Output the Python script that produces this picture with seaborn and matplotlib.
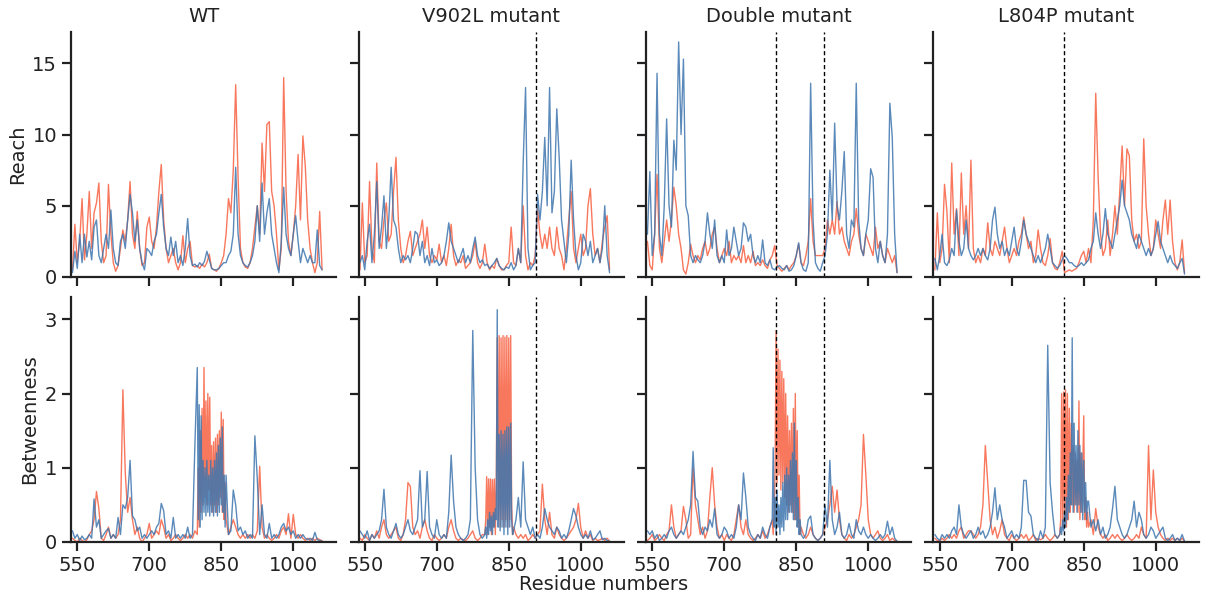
import matplotlib
matplotlib.use("Agg")
import matplotlib.pyplot as plt
import numpy as np
import pandas as pd
import seaborn as sns

# Residue grids: reach every 5 residues; betweenness is sampled more finely
# through the dense 800-858 hinge segment.
reach_residues = list(range(540, 1061, 5))
betw_residues = (list(range(540, 800, 5)) + list(range(800, 860, 2))
                 + list(range(860, 1061, 5)))

systems = ["WT", "V902L mutant", "Double mutant", "L804P mutant"]
# Dashed guide lines marking the mutated positions on each panel's axis
marker_lines = {
    "WT": [],
    "V902L mutant": [907],
    "Double mutant": [808, 907],
    "L804P mutant": [808],
}

# ---- Reach profiles (state A = red, state B = blue) ----
reach_wt_a = [0.5, 3.7, 1.0, 2.5, 5.5, 1.2, 3.0, 6.0, 2.0, 4.5,
              5.2, 6.6, 2.5, 1.0, 1.5, 6.5, 3.0, 1.0, 0.4, 0.8,
              2.0, 3.3, 2.5, 4.0, 6.7, 3.0, 2.0, 4.6, 2.0, 0.8,
              1.0, 3.5, 4.2, 2.5, 2.0, 3.5, 6.0, 7.9, 4.0, 2.0,
              1.0, 1.5, 2.0, 1.0, 0.5, 1.0, 2.9, 1.0, 2.0, 2.5,
              0.8, 0.7, 0.8, 0.6, 0.9, 0.7, 1.0, 1.6, 0.6, 0.5,
              0.4, 0.6, 1.0, 1.5, 3.0, 5.5, 4.5, 7.5, 13.5, 7.0,
              2.0, 1.0, 0.7, 0.6, 1.0, 2.0, 3.5, 5.0, 3.0, 9.4,
              6.0, 10.7, 10.9, 6.0, 5.0, 3.0, 0.5, 2.0, 14.0, 6.0,
              2.5, 1.5, 3.0, 5.0, 8.6, 4.0, 9.9, 7.8, 4.0, 2.0,
              1.0, 0.3, 1.0, 4.6, 0.5]
reach_wt_b = [0.3, 1.8, 0.6, 3.0, 1.0, 3.0, 1.4, 2.5, 1.2, 3.5,
              4.0, 1.5, 1.0, 2.0, 3.0, 2.0, 4.7, 2.0, 1.0, 0.8,
              2.5, 3.0, 2.0, 4.0, 5.8, 4.5, 2.5, 4.0, 2.0, 1.0,
              0.5, 2.0, 1.8, 1.5, 2.5, 3.0, 4.5, 5.8, 3.5, 2.0,
              1.5, 2.8, 1.5, 2.5, 1.0, 1.5, 0.8, 2.0, 4.1, 1.5,
              0.8, 0.9, 0.7, 1.0, 0.8, 1.1, 1.8, 1.2, 0.6, 0.5,
              0.5, 0.6, 0.8, 1.0, 1.0, 1.5, 1.8, 3.0, 7.7, 3.0,
              1.5, 1.0, 0.8, 0.7, 1.0, 1.5, 2.5, 5.0, 2.5, 6.6,
              3.0, 4.5, 5.5, 3.0, 2.0, 1.0, 0.3, 2.5, 6.3, 3.0,
              2.0, 1.5, 3.0, 4.3, 2.5, 1.0, 2.0, 1.5, 1.0, 1.5,
              1.0, 1.0, 3.3, 0.8, 0.5]
reach_v902l_a = [0.5, 5.2, 1.0, 1.5, 6.7, 2.0, 1.0, 8.0, 2.5, 2.0,
                 4.0, 5.2, 2.5, 3.0, 6.0, 8.4, 4.0, 2.0, 1.0, 1.5,
                 2.5, 3.2, 1.5, 2.0, 2.5, 3.0, 4.0, 2.0, 3.5, 1.5,
                 1.0, 1.5, 1.2, 2.3, 1.0, 1.5, 0.8, 2.0, 3.7, 1.5,
                 0.8, 1.2, 1.0, 1.5, 0.6, 0.8, 1.0, 1.5, 2.5, 1.0,
                 0.6, 1.0, 2.3, 1.0, 0.5, 0.8, 0.6, 1.3, 0.8, 0.5,
                 0.5, 0.8, 1.0, 3.5, 1.0, 0.8, 2.0, 1.0, 5.0, 1.5,
                 0.5, 1.0, 0.8, 1.5, 4.8, 3.0, 2.0, 3.0, 2.0, 3.5,
                 2.0, 1.5, 3.5, 2.0, 1.5, 0.5, 2.0, 4.0, 6.0, 2.0,
                 1.0, 2.0, 3.0, 1.5, 2.0, 5.0, 6.2, 3.0, 1.5, 2.0,
                 1.0, 2.5, 3.5, 4.3, 0.5]
reach_v902l_b = [1.0, 1.5, 0.5, 2.5, 3.7, 1.0, 3.0, 6.7, 2.0, 3.5,
                 5.7, 2.0, 4.0, 7.7, 4.0, 3.5, 2.0, 1.0, 1.5, 1.2,
                 1.5, 1.0, 2.0, 3.2, 3.0, 1.5, 2.5, 1.0, 1.5, 0.8,
                 2.0, 1.0, 1.2, 0.8, 1.0, 1.5, 2.5, 3.8, 2.5, 2.0,
                 1.5, 1.0, 1.5, 2.0, 1.0, 1.5, 1.0, 2.0, 2.8, 1.5,
                 1.0, 1.2, 0.8, 0.9, 0.6, 0.8, 1.0, 1.3, 0.8, 0.6,
                 0.5, 0.7, 0.6, 1.0, 0.5, 0.8, 2.0, 1.0, 8.0, 13.3,
                 2.0, 0.5, 0.8, 1.0, 5.8, 4.0, 6.0, 9.8, 5.0, 13.3,
                 4.5, 6.0, 11.8, 8.4, 4.0, 2.5, 1.0, 3.0, 8.2, 4.0,
                 1.5, 0.5, 1.0, 3.0, 2.5, 1.5, 2.5, 1.0, 1.5, 2.0,
                 1.0, 2.0, 5.0, 1.5, 0.3]
reach_double_a = [2.5, 0.8, 0.5, 3.0, 7.2, 2.0, 1.0, 2.5, 4.0, 2.5,
                  4.0, 6.3, 5.0, 3.0, 2.0, 0.5, 0.2, 1.0, 2.3, 1.5,
                  1.0, 1.5, 1.2, 2.0, 2.5, 1.5, 2.0, 3.0, 3.5, 2.0,
                  1.0, 1.5, 2.0, 1.5, 2.5, 1.0, 1.5, 1.2, 1.5, 1.0,
                  2.2, 1.0, 1.5, 1.0, 1.8, 0.8, 1.0, 0.8, 1.2, 0.8,
                  0.6, 1.2, 1.5, 2.2, 0.8, 0.6, 0.4, 0.6, 0.8, 0.5,
                  0.8, 1.0, 1.5, 2.3, 1.0, 0.8, 1.5, 2.5, 5.5, 2.5,
                  1.5, 1.5, 1.5, 1.5, 2.0, 4.0, 3.0, 4.0, 3.0, 5.3,
                  3.0, 3.5, 2.5, 2.0, 1.5, 2.5, 3.0, 4.8, 3.0, 2.0,
                  1.5, 3.0, 2.5, 2.0, 1.5, 3.5, 2.0, 2.5, 1.5, 1.0,
                  2.0, 1.5, 1.0, 1.5, 0.3]
reach_double_b = [3.0, 7.4, 1.5, 3.0, 14.3, 3.0, 1.5, 5.0, 11.1, 5.0,
                  3.5, 9.6, 7.5, 16.5, 10.0, 15.3, 5.0, 4.3, 1.5, 1.0,
                  1.5, 1.2, 1.0, 1.5, 2.5, 4.5, 3.0, 2.0, 4.0, 1.5,
                  1.0, 1.5, 1.0, 3.3, 1.5, 2.0, 3.5, 2.5, 1.5, 2.0,
                  3.8, 3.5, 2.5, 3.0, 1.5, 1.0, 1.5, 1.0, 2.6, 1.0,
                  0.8, 1.2, 0.6, 0.5, 0.7, 0.8, 0.6, 0.5, 0.8, 0.4,
                  0.5, 0.8, 1.5, 2.4, 1.0, 0.5, 0.4, 1.0, 13.6, 4.0,
                  1.0, 0.6, 0.4, 1.0, 1.5, 3.0, 7.5, 4.0, 10.8, 5.0,
                  4.0, 6.0, 8.8, 3.0, 2.0, 4.0, 3.5, 13.6, 4.0, 2.0,
                  1.5, 3.0, 4.0, 7.6, 7.0, 2.0, 1.0, 2.5, 1.5, 1.0,
                  3.0, 12.2, 9.8, 3.0, 0.3]
reach_l804p_a = [0.5, 4.5, 1.0, 2.0, 6.5, 4.6, 1.0, 8.0, 3.0, 4.8,
                 1.5, 7.3, 3.0, 5.0, 2.0, 8.2, 2.0, 1.0, 1.5, 1.0,
                 2.0, 1.5, 3.8, 2.0, 1.5, 2.5, 2.0, 1.5, 2.5, 3.5,
                 2.0, 1.0, 1.5, 2.0, 1.5, 2.5, 3.0, 4.2, 3.0, 2.0,
                 2.5, 1.0, 1.5, 3.3, 2.0, 1.0, 0.8, 1.5, 2.7, 1.0,
                 0.6, 0.5, 1.0, 1.8, 0.3, 0.4, 0.5, 0.4, 0.5, 0.6,
                 1.0, 1.5, 1.8, 1.0, 2.0, 1.0, 4.0, 12.9, 7.0, 3.0,
                 1.5, 2.0, 4.0, 1.5, 3.0, 5.0, 3.0, 6.0, 9.2, 5.0,
                 9.0, 8.5, 4.0, 2.5, 3.0, 2.0, 2.5, 9.7, 5.0, 3.0,
                 1.5, 2.0, 4.0, 3.0, 2.0, 4.0, 5.4, 3.0, 5.4, 2.5,
                 1.0, 0.5, 1.0, 2.6, 0.3]
reach_l804p_b = [1.3, 0.5, 1.5, 3.0, 1.0, 0.8, 1.2, 2.0, 1.5, 4.7,
                 2.5, 1.5, 2.0, 4.0, 2.0, 1.5, 1.2, 1.5, 2.0, 1.5,
                 2.0, 1.5, 1.2, 2.0, 4.0, 4.9, 3.0, 2.0, 2.5, 1.5,
                 2.0, 1.5, 2.5, 3.5, 2.0, 1.5, 2.5, 4.0, 3.0, 2.5,
                 2.0, 1.5, 1.0, 1.5, 1.0, 1.5, 2.0, 3.0, 2.0, 1.0,
                 0.8, 0.6, 0.8, 1.2, 1.5, 1.3, 1.0, 1.0, 0.8, 0.7,
                 0.8, 1.0, 0.8, 1.0, 1.2, 2.0, 2.5, 4.5, 3.0, 2.0,
                 3.0, 4.8, 3.0, 2.5, 2.0, 3.0, 4.0, 5.0, 6.8, 5.0,
                 4.5, 4.0, 3.0, 2.5, 2.0, 3.0, 2.5, 2.0, 1.5, 2.0,
                 1.5, 2.0, 3.0, 3.9, 2.5, 2.0, 1.5, 1.0, 1.5, 1.0,
                 0.8, 0.6, 1.0, 1.3, 0.2]

# ---- Betweenness profiles on betw_residues (state A = red, state B = blue) ----
betw_wt_a = [0.05, 0.02, 0.0, 0.05, 0.02, 0.0, 0.03, 0.1, 0.15, 0.3,
             0.68, 0.45, 0.05, 0.02, 0.1, 0.2, 0.05, 0.1, 0.05, 0.1,
             0.3, 2.05, 0.93, 0.4, 0.6, 0.3, 0.1, 0.2, 0.05, 0.0,
             0.05, 0.1, 0.25, 0.05, 0.1, 0.15, 0.1, 0.3, 0.2, 0.05,
             0.1, 0.02, 0.05, 0.1, 0.05, 0.02, 0.05, 0.1, 0.05, 0.1,
             0.05, 0.15,
             0.1, 1.0, 0.2, 1.5, 0.4, 1.8, 0.5, 2.35, 0.6, 1.9,
             0.5, 2.0, 0.7, 1.95, 0.5, 1.3, 0.4, 1.35, 0.5, 1.4,
             0.4, 1.45, 0.5, 1.5, 0.6, 1.75, 0.4, 1.65, 0.3, 0.8,
             0.3, 0.1, 0.2, 0.3, 0.2, 0.1,
             0.05, 0.1, 0.05, 0.1, 0.05, 0.1, 0.05, 0.15, 1.02, 0.2,
             0.05, 0.1, 0.05, 0.02, 0.05, 0.1, 0.05, 0.15, 0.2, 0.1,
             0.38, 0.05, 0.37, 0.1, 0.05, 0.1, 0.05, 0.02, 0.05, 0.02,
             0.05, 0.02, 0.05, 0.03, 0.02]
betw_wt_b = [0.15, 0.05, 0.1, 0.02, 0.08, 0.03, 0.05, 0.1, 0.05, 0.58,
             0.2, 0.3, 0.05, 0.1, 0.15, 0.18, 0.05, 0.1, 0.05, 0.33,
             0.1, 0.5, 0.45, 0.6, 1.1, 0.35, 0.3, 0.15, 0.2, 0.05,
             0.1, 0.05, 0.1, 0.15, 0.1, 0.2, 0.25, 0.52, 0.42, 0.1,
             0.15, 0.05, 0.33, 0.05, 0.1, 0.05, 0.1, 0.05, 0.2, 0.05,
             0.1, 1.3,
             2.35, 0.3, 1.85, 0.2, 1.7, 0.3, 1.1, 0.4, 1.0, 0.35,
             1.1, 0.4, 0.9, 0.35, 1.1, 0.4, 1.0, 0.35, 1.1, 0.4,
             1.2, 0.35, 1.3, 0.4, 1.4, 0.5, 1.55, 0.4, 0.9, 0.2,
             0.9, 0.1, 0.15, 0.7, 0.5, 0.15,
             0.2, 0.1, 0.15, 0.05, 0.1, 0.05, 1.43, 0.85, 0.1, 0.5,
             0.1, 0.05, 0.25, 0.05, 0.1, 0.05, 0.1, 0.2, 0.25, 0.15,
             0.2, 0.1, 0.15, 0.05, 0.1, 0.05, 0.1, 0.05, 0.03, 0.05,
             0.02, 0.13, 0.03, 0.02, 0.01]
betw_v902l_a = [0.05, 0.02, 0.1, 0.05, 0.02, 0.1, 0.05, 0.15, 0.05, 0.2,
                0.3, 0.1, 0.05, 0.1, 0.15, 0.2, 0.05, 0.02, 0.1, 0.3,
                0.8, 0.75, 0.2, 0.1, 0.15, 0.05, 0.2, 0.3, 0.15, 0.05,
                0.02, 0.1, 0.05, 0.02, 0.05, 0.1, 0.05, 0.2, 0.3, 0.15,
                0.05, 0.02, 0.05, 0.03, 0.02, 0.05, 0.1, 0.15, 0.05, 0.02,
                0.05, 0.1,
                0.1, 0.3, 0.88, 0.1, 0.85, 0.2, 0.85, 0.1, 0.84, 0.2,
                0.85, 0.1, 0.8, 2.75, 0.3, 2.78, 0.2, 2.75, 0.3, 2.78,
                0.2, 2.76, 0.3, 2.78, 0.2, 2.75, 0.3, 2.78, 0.5, 0.1,
                0.2, 0.1, 0.05, 0.1, 0.05, 0.1,
                0.02, 0.05, 0.1, 0.05, 0.1, 0.15, 0.78, 0.3, 0.1, 0.4,
                0.1, 0.05, 0.2, 0.1, 0.05, 0.02, 0.05, 0.1, 0.15, 0.2,
                0.3, 0.52, 0.2, 0.05, 0.15, 0.05, 0.1, 0.02, 0.05, 0.02,
                0.03, 0.05, 0.02, 0.05, 0.01]
betw_v902l_b = [0.15, 0.1, 0.05, 0.15, 0.02, 0.1, 0.05, 0.1, 0.15, 0.3,
                0.71, 0.2, 0.1, 0.05, 0.15, 0.25, 0.1, 0.05, 0.1, 0.2,
                0.3, 0.15, 0.1, 0.2, 0.3, 0.96, 0.2, 0.3, 0.95, 0.2,
                0.1, 0.05, 0.3, 0.1, 0.05, 0.1, 0.05, 0.4, 1.17, 0.55,
                0.2, 0.1, 0.05, 0.02, 0.05, 0.1, 0.3, 2.85, 1.0, 0.3,
                0.1, 0.05,
                0.1, 0.2, 0.05, 0.3, 0.1, 0.4, 0.15, 0.35, 0.1, 0.4,
                0.2, 0.45, 0.3, 3.13, 0.2, 1.45, 0.15, 1.5, 0.2, 1.45,
                0.1, 1.5, 0.2, 1.55, 0.1, 1.55, 0.2, 1.6, 0.3, 0.1,
                0.15, 0.3, 0.6, 0.2, 1.08, 0.3,
                0.2, 0.1, 0.2, 0.05, 0.1, 0.05, 0.2, 0.45, 0.3, 0.2,
                0.15, 0.1, 0.2, 0.15, 0.05, 0.1, 0.05, 0.15, 0.3, 0.45,
                0.35, 0.2, 0.1, 0.05, 0.1, 0.05, 0.15, 0.03, 0.05, 0.1,
                0.15, 0.03, 0.05, 0.02, 0.01]
betw_double_a = [0.02, 0.05, 0.1, 0.02, 0.05, 0.1, 0.05, 0.02, 0.1, 0.15,
                 0.5, 0.2, 0.05, 0.1, 0.15, 0.48, 0.3, 0.05, 0.1, 1.0,
                 0.5, 0.3, 0.1, 0.2, 0.05, 0.15, 0.6, 1.0, 0.5, 0.2,
                 0.05, 0.1, 0.02, 0.1, 0.05, 0.02, 0.1, 0.3, 0.5, 0.2,
                 0.1, 0.3, 0.1, 0.05, 0.02, 0.05, 0.1, 0.05, 0.15, 0.05,
                 0.1, 0.2,
                 0.3, 0.1, 0.4, 1.0, 2.85, 0.8, 2.6, 0.9, 2.45, 0.7,
                 2.3, 0.8, 2.2, 0.6, 2.0, 0.5, 1.7, 0.4, 1.5, 0.5,
                 1.6, 0.4, 1.8, 0.3, 2.0, 0.3, 1.5, 0.2, 0.9, 0.1,
                 0.2, 0.1, 0.05, 0.1, 0.2, 0.1,
                 0.05, 0.02, 0.05, 0.1, 0.2, 0.3, 0.5, 0.75, 0.4, 0.7,
                 0.3, 0.1, 0.05, 0.02, 0.1, 0.05, 0.1, 0.2, 0.3, 0.5,
                 1.45, 0.9, 0.3, 0.1, 0.05, 0.1, 0.15, 0.05, 0.02, 0.05,
                 0.1, 0.02, 0.05, 0.02, 0.01]
betw_double_b = [0.15, 0.1, 0.15, 0.05, 0.1, 0.02, 0.05, 0.1, 0.05, 0.15,
                 0.2, 0.1, 0.05, 0.1, 0.15, 0.1, 0.2, 0.3, 0.5, 1.22,
                 0.6, 0.55, 0.2, 0.1, 0.2, 0.15, 0.3, 0.2, 0.45, 0.1,
                 0.05, 0.1, 0.2, 0.15, 0.05, 0.1, 0.05, 0.2, 0.5, 0.3,
                 0.93, 0.6, 0.2, 0.1, 0.05, 0.02, 0.1, 0.05, 0.2, 0.1,
                 0.05, 0.2,
                 0.3, 1.27, 0.2, 0.6, 0.1, 0.7, 0.2, 0.5, 0.1, 0.6,
                 0.2, 0.8, 0.15, 0.9, 0.3, 1.0, 0.3, 0.9, 0.4, 1.1,
                 0.4, 1.2, 0.3, 1.6, 0.3, 1.1, 0.2, 0.6, 0.1, 0.3,
                 0.1, 0.05, 0.1, 0.3, 0.35, 0.1,
                 0.05, 0.02, 0.05, 0.1, 0.5, 0.2, 1.1, 0.3, 0.1, 0.2,
                 0.4, 0.1, 0.05, 0.1, 0.25, 0.1, 0.05, 0.3, 0.15, 0.1,
                 0.2, 0.1, 0.05, 0.1, 0.05, 0.02, 0.05, 0.1, 0.05, 0.1,
                 0.28, 0.1, 0.2, 0.05, 0.01]
betw_l804p_a = [0.05, 0.02, 0.01, 0.05, 0.02, 0.05, 0.1, 0.05, 0.1, 0.05,
                0.15, 0.2, 0.05, 0.1, 0.15, 0.15, 0.1, 0.05, 0.1, 0.2,
                0.5, 1.3, 0.8, 0.3, 0.1, 0.2, 0.05, 0.15, 0.3, 0.1,
                0.05, 0.02, 0.1, 0.05, 0.02, 0.05, 0.1, 0.05, 0.1, 0.02,
                0.05, 0.1, 0.02, 0.05, 0.03, 0.05, 0.1, 0.05, 0.02, 0.05,
                0.1, 0.05,
                0.1, 0.3, 2.0, 0.2, 2.02, 0.3, 2.05, 0.2, 2.0, 0.3,
                1.8, 0.4, 1.6, 0.5, 1.3, 0.4, 1.2, 0.5, 1.1, 0.4,
                1.9, 0.3, 1.2, 0.4, 1.0, 1.7, 0.3, 0.6, 0.2, 0.4,
                0.2, 0.3, 0.1, 0.45, 0.2, 0.1,
                0.05, 0.1, 0.02, 0.05, 0.1, 0.05, 0.1, 0.05, 0.02, 0.05,
                0.1, 0.05, 0.02, 0.05, 0.1, 0.05, 0.2, 0.1, 0.05, 1.3,
                0.3, 0.97, 0.4, 0.2, 0.1, 0.05, 0.02, 0.05, 0.02, 0.05,
                0.02, 0.05, 0.02, 0.05, 0.01]
betw_l804p_b = [0.1, 0.05, 0.02, 0.1, 0.05, 0.1, 0.05, 0.15, 0.2, 0.1,
                0.5, 0.2, 0.1, 0.05, 0.1, 0.15, 0.05, 0.1, 0.2, 0.1,
                0.15, 0.05, 0.1, 0.2, 0.4, 0.73, 0.3, 0.5, 0.3, 0.2,
                0.05, 0.1, 0.15, 0.05, 0.1, 0.05, 0.2, 0.83, 0.83, 0.4,
                0.35, 0.1, 0.05, 0.02, 0.15, 0.05, 0.2, 2.65, 0.8, 0.4,
                0.1, 0.05,
                0.1, 0.2, 0.1, 0.3, 0.15, 0.4, 0.2, 0.6, 0.3, 0.9,
                0.4, 1.2, 0.5, 2.75, 0.4, 1.6, 0.5, 1.3, 0.4, 1.5,
                0.5, 1.3, 0.4, 1.2, 0.3, 1.1, 0.4, 0.8, 0.3, 0.55,
                0.55, 0.2, 0.3, 0.15, 0.3, 0.1,
                0.2, 0.05, 0.1, 0.2, 0.45, 0.75, 0.3, 0.2, 0.1, 0.05,
                0.1, 0.2, 0.3, 0.55, 0.2, 0.4, 0.3, 0.1, 0.05, 0.1,
                0.2, 0.15, 0.05, 0.1, 0.15, 0.2, 0.05, 0.02, 0.05, 0.1,
                0.02, 0.05, 0.02, 0.1, 0.01]

reach = {
    "WT": (reach_wt_a, reach_wt_b),
    "V902L mutant": (reach_v902l_a, reach_v902l_b),
    "Double mutant": (reach_double_a, reach_double_b),
    "L804P mutant": (reach_l804p_a, reach_l804p_b),
}
betweenness = {
    "WT": (betw_wt_a, betw_wt_b),
    "V902L mutant": (betw_v902l_a, betw_v902l_b),
    "Double mutant": (betw_double_a, betw_double_b),
    "L804P mutant": (betw_l804p_a, betw_l804p_b),
}

metric_rows = [("Reach", reach_residues, reach, [0, 5, 10, 15], (0, 17.2)),
               ("Betweenness", betw_residues, betweenness, [0, 1, 2, 3], (0, 3.3))]

x_ticks = [550, 700, 850, 1000]
color_a = "#F8694C"
color_b = "#3D75AE"
ink = "#222222"

sns.set_theme(style="ticks", rc={
    "axes.edgecolor": ink,
    "axes.linewidth": 1.6,
    "xtick.color": ink,
    "ytick.color": ink,
    "xtick.major.size": 6.5,
    "ytick.major.size": 6.5,
    "xtick.major.width": 1.6,
    "ytick.major.width": 1.6,
    "text.color": ink,
    "axes.labelcolor": ink,
})
plt.rcParams["font.family"] = ["DejaVu Sans"]

fig, axes = plt.subplots(2, 4, figsize=(12.08, 5.99), dpi=100,
                         sharex=True, sharey="row")
fig.subplots_adjust(left=0.0588, right=0.9925, top=0.9466, bottom=0.0952,
                    wspace=0.083, hspace=0.082)

for r, (label, grid, table, yticks, ylim) in enumerate(metric_rows):
    for c, name in enumerate(systems):
        ax = axes[r, c]
        vals_a, vals_b = table[name]
        df = pd.DataFrame({"residue": grid, "a": vals_a, "b": vals_b})
        sns.lineplot(data=df, x="residue", y="a", ax=ax, color=color_a,
                     linewidth=1.0, alpha=0.9)
        sns.lineplot(data=df, x="residue", y="b", ax=ax, color=color_b,
                     linewidth=1.0, alpha=0.85)
        for site in marker_lines[name]:
            ax.axvline(site, color="black", linestyle=(0, (3, 2)), linewidth=1.0)
        ax.set_ylim(*ylim)
        ax.set_yticks(yticks)
        ax.set_xlim(537, 1090)
        ax.set_xticks(x_ticks)
        ax.set_xlabel("")
        ax.set_ylabel(label if c == 0 else "", fontsize=14)
        ax.tick_params(labelsize=14)
        if r == 0:
            ax.set_title(name, fontsize=14, pad=7)
        sns.despine(ax=ax)

fig.text(0.5, 1 - 585 / 599, "Residue numbers", ha="center", va="center",
         fontsize=14)

fig.savefig("out.png", dpi=100)
